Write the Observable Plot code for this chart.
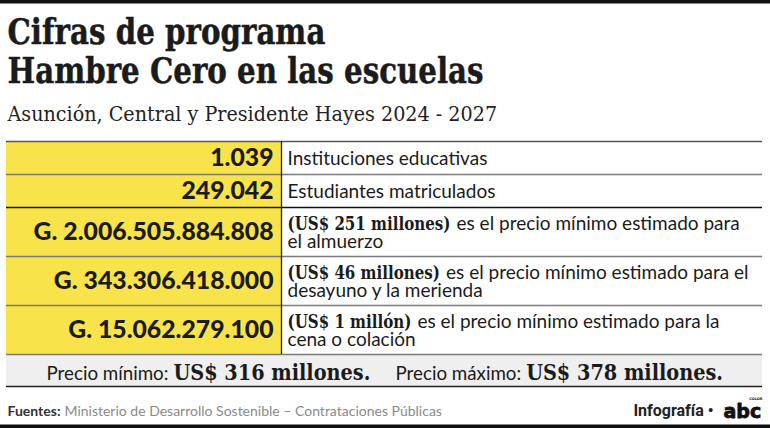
<!DOCTYPE html>
<html><head><meta charset="utf-8">
<script src="https://cdn.jsdelivr.net/npm/d3@7"></script>
<script src="https://cdn.jsdelivr.net/npm/@observablehq/plot@0.6"></script>
<style>html,body{margin:0;padding:0;background:#fff}svg{display:block}</style>
</head><body><div id="chart"></div>
<script>
// ---------- data ----------
const titleLines = ["Cifras de programa", "Hambre Cero en las escuelas"];
const subtitle = "Asunción, Central y Presidente Hayes 2024 - 2027";
const values = ["1.039", "249.042", "G. 2.006.505.884.808", "G. 343.306.418.000", "G. 15.062.279.100"];
const notes = ["", "", "(US$ 251 millones)", "(US$ 46 millones)", "(US$ 1 millón)"];
const descriptions = [
  "Instituciones educativas",
  "Estudiantes matriculados",
  "es el precio mínimo estimado para\nel almuerzo",
  "es el precio mínimo estimado para el\ndesayuno y la merienda",
  "es el precio mínimo estimado para la\ncena o colación"
];
const summaryLabels = ["Precio mínimo:", "Precio máximo:"];
const summaryValues = ["US$ 316 millones.", "US$ 378 millones."];
const sourceLabel = "Fuentes:";
const sourceText = "Ministerio de Desarrollo Sostenible – Contrataciones Públicas";
const credit = "Infografía •";
const brand = "abc";
const brandSmall = "COLOR";

// ---------- layout ----------
const W = 770, H = 428;
const L = 6, R = 762, DIV = 281;
const tableTop = 141;
const rowHeights = [33, 33, 49, 49, 49];
const SERIF = '"DejaVu Serif", serif';
const SANS = 'Lato, "Open Sans", sans-serif';
const YELLOW = "#f8e34a";
const INK = "#1b1b1b";

const ctx = document.createElement("canvas").getContext("2d");
function tw(text, font) { ctx.font = font; return ctx.measureText(text).width; }
function fit(text, weight, family, target) { return 40 * target / tw(text, `${weight} 40px ${family}`); }

// serif texts: chosen size for height, horizontally squeezed to reference width
const titleSize = 36;
const kTitle = 318 / tw(titleLines[0], `bold ${titleSize}px ${SERIF}`);
const subSize = 20.5;
const kSub = 490 / tw(subtitle, `normal ${subSize}px ${SERIF}`);
const noteSize = 18;
const kNote = 163 / tw(notes[2], `bold ${noteSize}px ${SERIF}`);
const sumValSize = 23;
const kSum = 197 / tw(summaryValues[0], `bold ${sumValSize}px ${SERIF}`);

const valSize = fit(values[2], "900", SANS, 240);
const descSize = fit(descriptions[0], "normal", SANS, 200);
const sumLabelSize = fit(summaryLabels[0], "normal", SANS, 122);

const edges = [tableTop];
rowHeights.forEach(h => edges.push(edges[edges.length - 1] + h));
const rows = values.map((v, i) => ({
  i, value: v, note: notes[i],
  line1: descriptions[i].split("\n")[0],
  line2: descriptions[i].split("\n")[1] || "",
  y1: edges[i], y2: edges[i + 1]
}));
const tableBottom = edges[edges.length - 1];
const bandBottom = 386;

const textX = DIV + 6;
const noteW = r => r.note ? tw(r.note, `bold ${noteSize}px ${SERIF}`) * kNote + 6 : 0;

const sumStarts = [46, 395];
const summary = summaryLabels.map((s, i) => ({
  label: s, value: summaryValues[i], x: sumStarts[i],
  vx: sumStarts[i] + tw(s, `normal ${sumLabelSize}px ${SANS}`) + 5
}));

const hLines = edges.map((y, i) => ({y, stroke: i === 2 ? "#111" : (i === 0 ? "#555" : "#7a7a7a")}));

const plot = Plot.plot({
  width: W, height: H, margin: 0,
  x: {domain: [0, W], range: [0, W], axis: null},
  y: {domain: [0, H], range: [0, H], axis: null},
  style: {background: "#fff"},
  marks: [
    Plot.rect([0], {x1: 0, x2: W, y1: 0, y2: 3.5, fill: "#111"}),
    Plot.rect([0], {x1: 0, x2: W, y1: 424.5, y2: H, fill: "#111"}),
    Plot.text(titleLines, {x: 7, y: (d, i) => 43 + i * 39, text: d => d, textAnchor: "start", lineAnchor: "bottom",
      fontFamily: SERIF, fontWeight: "bold", fontSize: titleSize, fill: INK, stroke: INK, strokeWidth: 0.5}),
    Plot.text([subtitle], {x: 7, y: 120, text: d => d, textAnchor: "start", lineAnchor: "bottom",
      fontFamily: SERIF, fontSize: subSize, fill: "#222"}),
    Plot.rect(rows, {x1: L, x2: DIV, y1: "y1", y2: "y2", fill: YELLOW}),
    Plot.rect(rows, {x1: DIV, x2: R, y1: "y1", y2: "y2", fill: "#fff"}),
    Plot.rect([0], {x1: L, x2: R, y1: tableBottom, y2: bandBottom, fill: "#efefef"}),
    Plot.ruleY(hLines, {y: "y", x1: L, x2: R, stroke: "stroke", strokeWidth: 1.3}),
    Plot.ruleY([bandBottom], {x1: L, x2: R, stroke: "#222", strokeWidth: 1.3}),
    Plot.ruleX([DIV], {y1: tableTop, y2: tableBottom, stroke: "#222", strokeWidth: 1.3}),
    Plot.text(rows, {x: 273, y: r => (r.y1 + r.y2) / 2, text: "value", textAnchor: "end", lineAnchor: "middle",
      fontFamily: SANS, fontWeight: 900, fontSize: valSize, fill: INK}),
    Plot.text(rows.filter(r => r.note), {x: textX, y: r => r.y1 + 22, text: "note", textAnchor: "start", lineAnchor: "bottom",
      fontFamily: SERIF, fontWeight: "bold", fontSize: noteSize, fill: INK}),
    Plot.text(rows, {x: r => textX + noteW(r), y: r => r.note ? r.y1 + 22 : r.y1 + 23, text: "line1", textAnchor: "start", lineAnchor: "bottom",
      fontFamily: SANS, fontSize: descSize, fill: INK}),
    Plot.text(rows.filter(r => r.line2), {x: textX, y: r => r.y1 + 40, text: "line2", textAnchor: "start", lineAnchor: "bottom",
      fontFamily: SANS, fontSize: descSize, fill: INK}),
    Plot.text(summary, {x: "x", y: 379, text: "label", textAnchor: "start", lineAnchor: "bottom",
      fontFamily: SANS, fontSize: sumLabelSize, fill: INK}),
    Plot.text(summary, {x: "vx", y: 379, text: "value", textAnchor: "start", lineAnchor: "bottom",
      fontFamily: SERIF, fontWeight: "bold", fontSize: sumValSize, fill: INK}),
    Plot.text([sourceLabel], {x: 7, y: 415, text: d => d, textAnchor: "start", lineAnchor: "bottom",
      fontFamily: SANS, fontWeight: "bold", fontSize: 14, fill: "#333"}),
    Plot.text([sourceText], {x: 7 + tw(sourceLabel, `bold 14px ${SANS}`) + 4, y: 415, text: d => d, textAnchor: "start", lineAnchor: "bottom",
      fontFamily: SANS, fontSize: 14, fill: "#8a8a8a"}),
    Plot.text([credit], {x: 713, y: 415, text: d => d, textAnchor: "end", lineAnchor: "bottom",
      fontFamily: 'Roboto, sans-serif', fontWeight: "bold", fontSize: 16, fill: "#222"}),
    Plot.text([brand], {x: 723, y: 417, text: d => d, textAnchor: "start", lineAnchor: "bottom",
      fontFamily: '"DejaVu Sans"', fontWeight: "bold", fontSize: 19, fill: "#111", stroke: "#111", strokeWidth: 0.8, letterSpacing: "-1px"}),
    Plot.text([brandSmall], {x: 762, y: 399, text: d => d, textAnchor: "end", lineAnchor: "bottom",
      fontFamily: '"DejaVu Sans"', fontWeight: "bold", fontSize: 3.5, fill: "#111"})
  ]
});
document.getElementById("chart").appendChild(plot);

// horizontal squeeze of the serif texts around their anchor point
const squeeze = new Map();
titleLines.forEach(t => squeeze.set(t, kTitle));
squeeze.set(subtitle, kSub);
notes.filter(n => n).forEach(t => squeeze.set(t, kNote));
summaryValues.forEach(t => squeeze.set(t, kSum));
plot.querySelectorAll("text").forEach(el => {
  const k = squeeze.get(el.textContent);
  if (!k) return;
  const x = +el.getAttribute("x") || 0, y = +el.getAttribute("y") || 0;
  const t = el.getAttribute("transform") || "";
  el.removeAttribute("x"); el.removeAttribute("y");
  el.setAttribute("transform", `${t} translate(${x},${y}) scale(${k},1)`.trim());
});
</script>
</body></html>
